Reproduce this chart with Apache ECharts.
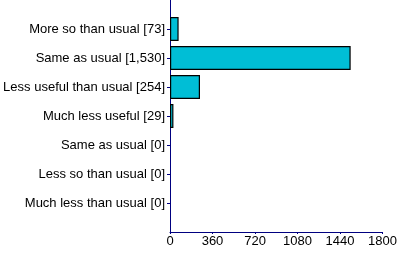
<!DOCTYPE html>
<html><head><meta charset="utf-8">
<script src="https://cdn.jsdelivr.net/npm/echarts@6/dist/echarts.min.js"></script>
<style>html,body{margin:0;padding:0;background:#fff}#c{width:400px;height:254px}</style>
</head><body><div id="c"></div>
<script>
const categories = ['More so than usual [73]', 'Same as usual [1,530]', 'Less useful than usual [254]', 'Much less useful [29]', 'Same as usual [0]', 'Less so than usual [0]', 'Much less than usual [0]'];
const values = [73, 1530, 254, 29, 0, 0, 0];
const xTicks = [0, 360, 720, 1080, 1440, 1800];

const cats = [''].concat(categories, ['']);
const vals = [null].concat(values.map(v => ({value: v, itemStyle: v === 0 ? {borderWidth: 0} : {}})), [null]);
const chart = echarts.init(document.getElementById('c'));
chart.setOption({
  animation: false,
  grid: {left: 170, right: 15, top: 0, bottom: 22, containLabel: false},
  xAxis: {
    type: 'value', min: xTicks[0], max: xTicks[xTicks.length-1], interval: 360,
    axisLine: {show: true, lineStyle: {color: '#000080', width: 1}},
    axisTick: {show: true, length: 2, lineStyle: {color: '#000080'}},
    splitLine: {show: false},
    axisLabel: {color: '#000', fontFamily: 'Liberation Sans, Arial', fontSize: 13, margin: 3, formatter: v => String(v)}
  },
  yAxis: {
    type: 'category', data: cats, inverse: true, boundaryGap: false,
    axisLine: {show: true, lineStyle: {color: '#000080', width: 1}},
    axisTick: {show: true, length: 3, lineStyle: {color: '#000080'}, interval: function(i){return i>0 && i<cats.length-1;}},
    axisLabel: {color: '#000', fontFamily: 'Liberation Sans, Arial', fontSize: 13, margin: 5, interval: 0}
  },
  series: [{
    type: 'bar', data: vals, barWidth: 24,
    itemStyle: {color: '#00BED6', borderColor: '#000', borderWidth: 1.2}
  }]
});
</script></body></html>
